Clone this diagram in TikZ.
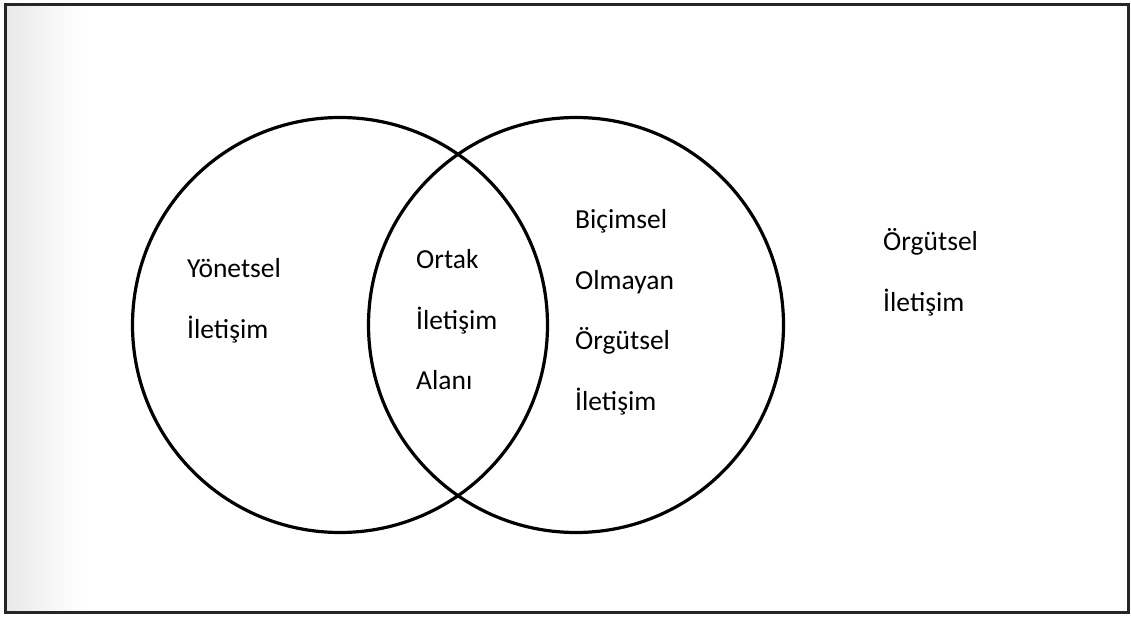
\documentclass[tikz,border=0pt]{standalone}
\usepackage{fontspec}
\setmainfont{Carlito}
\begin{document}
\begin{tikzpicture}[x=1pt,y=-1pt,
  lbl/.style={anchor=base west,inner sep=0pt,font=\fontsize{27.5}{30}\selectfont,text=black},
  ring/.style={draw=black,line width=3.2pt},
  frame/.style={draw=black!85,line width=3pt}]
\useasboundingbox (0,0) rectangle (1131,620);
\fill[white] (0,0) rectangle (1131,620);
\shade[left color=black!9,right color=white,middle color=black!4] (6,6) rectangle (85,611);
\draw[frame] (5,5) rectangle (1128,612);
\node[ring,circle,minimum size=415pt,inner sep=0pt] (L) at (340,325) {};
\node[ring,circle,minimum size=415pt,inner sep=0pt] (R) at (576,325) {};
\node[lbl] (y1) at (187,277) {Yönetsel};
\node[lbl] (y2) at (187,338) {İletişim};
\node[lbl] (o1) at (416,268) {Ortak};
\node[lbl] (o2) at (416,329) {İletişim};
\node[lbl] (o3) at (416,389) {Alanı};
\node[lbl] (b1) at (575,229) {Biçimsel};
\node[lbl] (b2) at (575,289) {Olmayan};
\node[lbl] (b3) at (575,349) {Örgütsel};
\node[lbl] (b4) at (575,410) {İletişim};
\node[lbl] (g1) at (883,251) {Örgütsel};
\node[lbl] (g2) at (883,311) {İletişim};
\end{tikzpicture}
\end{document}
